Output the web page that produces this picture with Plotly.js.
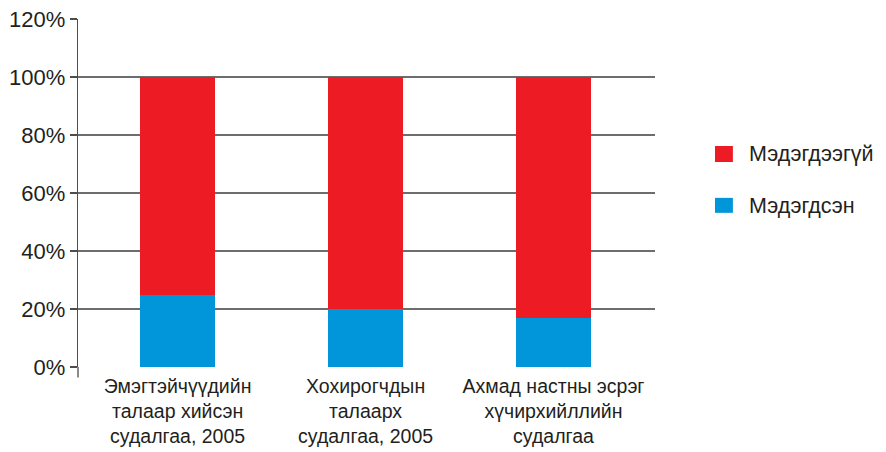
<!DOCTYPE html>
<html>
<head>
<meta charset="utf-8">
<script src="https://cdn.plot.ly/plotly-3.0.1.min.js"></script>
<style>html,body{margin:0;padding:0;background:#fff;}#chart{width:886px;height:452px;}</style>
</head>
<body>
<div id="chart"></div>
<script>
const categories = [
  "Эмэгтэйчүүдийн<br>талаар хийсэн<br>судалгаа, 2005",
  "Хохирогчдын<br>талаарх<br>судалгаа, 2005",
  "Ахмад настны эсрэг<br>хүчирхийллийн<br>судалгаа"
];
const knownValues = [25, 20, 17];      // Мэдэгдсэн
const unknownValues = [75, 80, 83];    // Мэдэгдээгүй
const seriesNames = ["Мэдэгдсэн", "Мэдэгдээгүй"];
const seriesColors = ["#0096D9", "#ED1C24"];
const yTickVals = [0, 20, 40, 60, 80, 100, 120];
const yTickText = ["0%", "20%", "40%", "60%", "80%", "100%", "120%"];

const font = "Liberation Sans, Arial, sans-serif";
const textColor = "#231F20";

const traces = [
  {type: "bar", x: categories, y: knownValues, name: seriesNames[0],
   marker: {color: seriesColors[0], line: {width: 0}}, width: 0.4, hoverinfo: "y"},
  {type: "bar", x: categories, y: unknownValues, name: seriesNames[1],
   marker: {color: seriesColors[1], line: {width: 0}}, width: 0.4, hoverinfo: "y"}
];

// custom legend (red item on top, blue below)
const legendOrder = [1, 0];
const legendRows = [{y0: 0.589, y1: 0.635, ty: 0.612}, {y0: 0.443, y1: 0.486, ty: 0.464}];
const shapes = [
  {type: "line", xref: "paper", yref: "paper", x0: 0, x1: 0, y0: -0.03, y1: 0,
   line: {color: "#4D4D4D", width: 1.3}}
];
const annotations = [];
legendOrder.forEach((si, i) => {
  const r = legendRows[i];
  shapes.push({type: "rect", xref: "paper", yref: "paper", x0: 1.104, x1: 1.135, y0: r.y0, y1: r.y1,
    fillcolor: seriesColors[si], line: {width: 0}});
  annotations.push({xref: "paper", yref: "paper", x: 1.16, y: r.ty, xanchor: "left", yanchor: "middle",
    text: seriesNames[si], showarrow: false, font: {size: 21.5, family: font, color: textColor}});
});

const layout = {
  width: 886, height: 452,
  margin: {l: 78, r: 231, t: 19, b: 85, pad: 0},
  paper_bgcolor: "#ffffff", plot_bgcolor: "#ffffff",
  barmode: "stack",
  font: {family: font, color: textColor, size: 19.5},
  showlegend: false,
  xaxis: {
    type: "category", range: [-0.53, 2.54],
    showgrid: false, zeroline: false, showline: false,
    ticks: "", ticklabelstandoff: 5,
    tickfont: {size: 19.5, family: font, color: textColor},
    fixedrange: true
  },
  yaxis: {
    range: [0, 120], tickvals: yTickVals, ticktext: yTickText,
    showgrid: true, gridcolor: "#6D6D6D", gridwidth: 1.3,
    zeroline: false, showline: true, linecolor: "#4D4D4D", linewidth: 1.3,
    ticks: "outside", ticklen: 7, tickcolor: "#4D4D4D", tickwidth: 1.3,
    tickfont: {size: 22, family: font, color: textColor},
    fixedrange: true
  },
  shapes: shapes,
  annotations: annotations
};

Plotly.newPlot("chart", traces, layout, {displayModeBar: false, staticPlot: true});
</script>
</body>
</html>
